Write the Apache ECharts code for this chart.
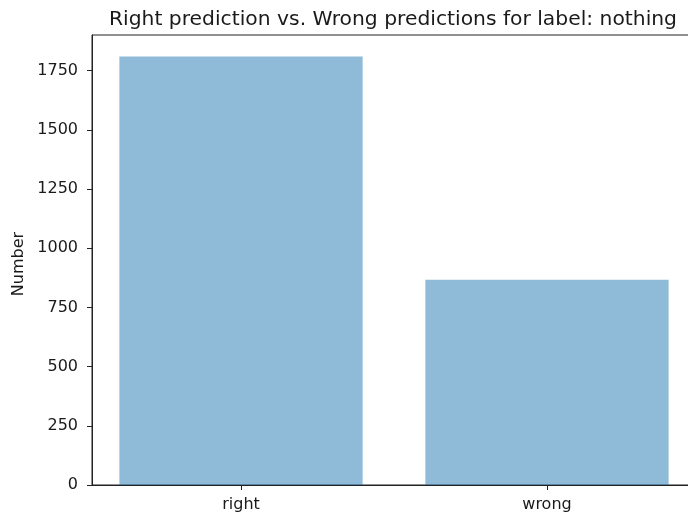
<!DOCTYPE html>
<html>
<head>
<meta charset="utf-8">
<script src="https://cdn.jsdelivr.net/npm/echarts@6/dist/echarts.min.js"></script>
<style>
  html, body { margin: 0; padding: 0; background: #fff; overflow: hidden; }
  /* the axes box runs slightly past the right edge of the window */
  #chart { width: 700px; height: 517px; }
</style>
</head>
<body>
<div id="chart"></div>
<script>
// Prediction outcome counts for the label "nothing"
const categories = ['right', 'wrong'];
const counts = [1810, 867];
const yTicks = [0, 250, 500, 750, 1000, 1250, 1500, 1750];
const xTicks = [0, 1];

const chart = echarts.init(document.getElementById('chart'), null, { renderer: 'canvas' });
const font = 'DejaVu Sans';
const ink = '#1a1a1a';

chart.setOption({
  animation: false,
  backgroundColor: '#ffffff',
  title: {
    text: 'Right prediction vs. Wrong predictions for label: nothing',
    left: 388, top: 5, textAlign: 'center',
    textStyle: { fontFamily: font, fontSize: 20.3, fontWeight: 'normal', color: ink }
  },
  grid: {
    left: 92, top: 35, bottom: 32, right: 4,
    show: true, borderColor: '#222', borderWidth: 1, backgroundColor: 'transparent'
  },
  xAxis: {
    type: 'value',
    min: -0.487,
    max: 1.487,
    splitLine: { show: false },
    axisLine: { onZero: false, lineStyle: { color: '#222', width: 1 } },
    axisTick: { show: true, length: 5, customValues: xTicks, lineStyle: { color: '#222' } },
    axisLabel: {
      fontFamily: font, fontSize: 16, color: ink, margin: 12,
      customValues: xTicks,
      formatter: v => categories[Math.round(v)] ?? ''
    }
  },
  yAxis: {
    type: 'value',
    min: 0,
    max: counts[0] * 1.05,
    interval: 250,
    name: 'Number',
    nameLocation: 'middle',
    nameGap: 58,
    nameTextStyle: { fontFamily: font, fontSize: 16, color: ink, padding: [0, 8, 0, 0] },
    splitLine: { show: false },
    axisLine: { show: true, onZero: false, lineStyle: { color: '#222', width: 1 } },
    axisTick: { show: true, length: 5, lineStyle: { color: '#222' } },
    axisLabel: {
      fontFamily: font, fontSize: 16, color: ink, margin: 14,
      showMaxLabel: false,
      formatter: v => (yTicks.includes(v) ? String(v) : '')
    }
  },
  series: [{
    type: 'bar',
    data: counts.map((v, i) => [i, v]),
    barWidth: '79.5%',
    itemStyle: { color: 'rgba(31,119,180,0.5)' }
  }]
});
</script>
</body>
</html>
